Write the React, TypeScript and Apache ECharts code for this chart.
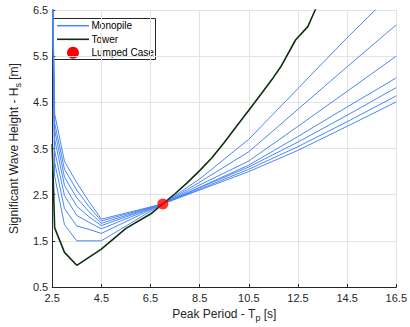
import React, { useEffect, useRef } from 'react';
import * as echarts from 'echarts';

// Peak period samples (s) for the monopile curves
const monoT = [2.5, 2.6, 3.0, 3.5, 4.0, 4.5, 7.0, 8.5, 10.5, 12.5, 14.5, 16.5];
// Significant wave height (m) for each monopile curve
const monopile1 = [7.5, 2.9, 1.85, 1.5, 1.5, 1.5, 2.3, 2.84, 3.7, 4.8, 5.9, 6.95];
const monopile2 = [7.5, 3.2, 2.2, 1.82, 1.75, 1.66, 2.3, 2.77, 3.43, 4.35, 5.27, 6.18];
const monopile3 = [7.5, 3.45, 2.48, 2.05, 1.9, 1.76, 2.3, 2.71, 3.23, 3.98, 4.74, 5.5];
const monopile4 = [7.5, 3.7, 2.7, 2.25, 2.02, 1.83, 2.3, 2.66, 3.14, 3.76, 4.4, 5.03];
const monopile5 = [7.5, 3.9, 2.88, 2.43, 2.13, 1.88, 2.3, 2.65, 3.1, 3.64, 4.22, 4.82];
const monopile6 = [7.5, 4.05, 3.05, 2.6, 2.24, 1.93, 2.3, 2.62, 3.05, 3.54, 4.08, 4.64];
const monopile7 = [7.5, 4.25, 3.22, 2.76, 2.35, 1.97, 2.3, 2.6, 3.0, 3.46, 3.98, 4.51];

// Tower curve
const towerT = [2.5, 2.6, 3.0, 3.5, 4.5, 5.5, 6.5, 7.0, 7.5, 8.0, 8.5, 9.0, 9.5, 10.0, 10.5, 11.0, 11.5, 11.8, 12.4, 12.9, 13.2, 13.5];
const towerHs = [3.6, 1.78, 1.25, 0.97, 1.32, 1.77, 2.08, 2.3, 2.52, 2.76, 3.02, 3.3, 3.63, 3.98, 4.33, 4.68, 5.04, 5.27, 5.85, 6.14, 6.5, 6.85];

// Lumped case
const lumpedT = [7.0];
const lumpedHs = [2.3];

// Axes
const xMin = 2.5, xMax = 16.5, xStep = 2;
const yMin = 0.5, yMax = 6.5, yStep = 1;

const legendNames = ['Monopile', 'Tower', 'Lumped Case'];

const FONT = "'Liberation Sans', Arial, Helvetica, sans-serif";
const BLUE = '#4a86f7';
const GREEN = '#0f2f0f';
const RED = '#ff0000';

export default function App() {
  const ref = useRef<HTMLDivElement>(null);
  useEffect(() => {
    if (!ref.current) return;
    const chart = echarts.init(ref.current, undefined, { renderer: 'svg' });
    const monoSets = [monopile1, monopile2, monopile3, monopile4, monopile5, monopile6, monopile7];
    const monoSeries = monoSets.map((hs) => ({
      name: legendNames[0],
      type: 'line',
      data: monoT.map((t, i) => [t, hs[i]]),
      symbol: 'none',
      lineStyle: { color: BLUE, width: 1 },
      itemStyle: { color: BLUE },
      clip: true,
      z: 2,
    }));
    const axisCommon = {
      type: 'value',
      axisLine: { show: true, onZero: false, lineStyle: { color: '#262626', width: 1 } },
      axisTick: { show: true, inside: true, length: 3, lineStyle: { color: '#262626' } },
      splitLine: { show: true, lineStyle: { color: '#e3e3e3', width: 1 } },
    };

    // Legend box drawn as graphic elements (MATLAB-style)
    const lx = 53.5, ly = 18.5, lw = 102, lh = 41;
    const rowY = [25.7, 39.3, 52.7];
    const textX = 91.5;
    const legendGraphic = {
      type: 'group',
      z: 100,
      children: [
        { type: 'rect', shape: { x: lx, y: ly, width: lw, height: lh }, style: { fill: '#fff', stroke: '#262626', lineWidth: 1 } },
        { type: 'line', shape: { x1: 57, y1: rowY[0], x2: 89, y2: rowY[0] }, style: { stroke: BLUE, lineWidth: 1.5 } },
        { type: 'line', shape: { x1: 57, y1: rowY[1], x2: 89, y2: rowY[1] }, style: { stroke: GREEN, lineWidth: 1.6 } },
        { type: 'circle', shape: { cx: 73, cy: rowY[2], r: 6 }, style: { fill: RED } },
        ...legendNames.map((n, i) => ({
          type: 'text',
          x: textX,
          y: rowY[i],
          style: { text: n, fontSize: 10, fontFamily: FONT, fill: '#000', verticalAlign: 'middle', align: 'left' },
        })),
      ],
    };

    chart.setOption({
      animation: false,
      backgroundColor: '#fff',
      textStyle: { fontFamily: FONT },
      grid: { left: 44, top: 10, right: 12, bottom: 40, containLabel: false },
      legend: { show: false, data: legendNames },
      graphic: [legendGraphic],
      xAxis: {
        ...axisCommon,
        min: xMin,
        max: xMax,
        interval: xStep,
        axisLabel: {
          color: '#262626',
          fontSize: 11,
          margin: 5,
          fontFamily: FONT,
          formatter: (v: number) => v.toFixed(1),
        },
        name: '{a|Peak Period - T}{s|p}{a| [s]}',
        nameLocation: 'middle',
        nameGap: 19,
        nameTextStyle: {
          rich: {
            a: { fontSize: 12, lineHeight: 16, color: '#262626', fontFamily: FONT },
            s: { fontSize: 9, lineHeight: 8, verticalAlign: 'bottom', color: '#262626', fontFamily: FONT },
          },
        },
      },
      yAxis: {
        ...axisCommon,
        min: yMin,
        max: yMax,
        interval: yStep,
        axisLabel: {
          color: '#262626',
          fontSize: 11,
          margin: 4,
          fontFamily: FONT,
          formatter: (v: number) => v.toFixed(1),
        },
        name: '{a|Significant Wave Height - H}{s|s}{a| [m]}',
        nameLocation: 'middle',
        nameRotate: 90,
        nameGap: 24,
        nameTextStyle: {
          rich: {
            a: { fontSize: 12, lineHeight: 16, color: '#262626', fontFamily: FONT },
            s: { fontSize: 9, lineHeight: 8, verticalAlign: 'bottom', color: '#262626', fontFamily: FONT },
          },
        },
      },
      series: [
        ...monoSeries,
        {
          name: legendNames[1],
          type: 'line',
          data: towerT.map((t, i) => [t, towerHs[i]]),
          symbol: 'none',
          lineStyle: { color: GREEN, width: 1.6 },
          itemStyle: { color: GREEN },
          clip: true,
          z: 3,
        },
        {
          name: legendNames[2],
          type: 'scatter',
          data: lumpedT.map((t, i) => [t, lumpedHs[i]]),
          symbol: 'circle',
          symbolSize: 11,
          itemStyle: { color: RED },
          z: 4,
        },
      ],
    });
    return () => chart.dispose();
  }, []);
  return (
    <div
      ref={ref}
      style={{ position: 'fixed', left: 0, top: 0, width: 410, height: 327, background: '#fff' }}
    />
  );
}
